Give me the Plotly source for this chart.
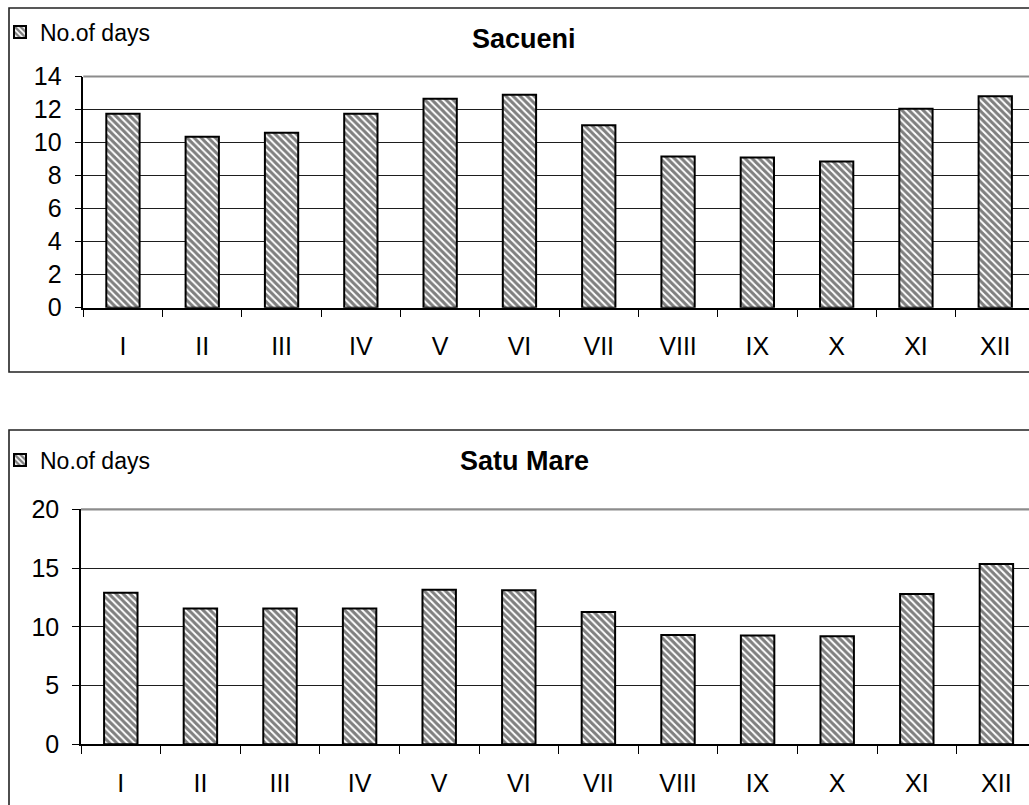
import plotly.graph_objects as go

# Monthly number of days, two stations
months = ["I", "II", "III", "IV", "V", "VI", "VII", "VIII", "IX", "X", "XI", "XII"]
sacueni_days = [11.75, 10.35, 10.6, 11.75, 12.65, 12.9, 11.05, 9.15, 9.1, 8.85, 12.05, 12.8]
satu_mare_days = [12.9, 11.55, 11.55, 11.55, 13.15, 13.1, 11.25, 9.3, 9.25, 9.2, 12.8, 15.35]
series_name = "No.of days"
station_titles = ["Sacueni", "Satu Mare"]

W, H = 1029, 805
FONT = "Liberation Sans, Arial, sans-serif"


def px_x(p):
    return p / W


def px_y(p):
    return 1 - p / H


bar_marker = dict(
    color="white",
    line=dict(color="black", width=2),
    pattern=dict(shape="\\", fgcolor="black", bgcolor="white", size=5, solidity=0.6),
)

fig = go.Figure()
fig.add_trace(go.Bar(x=months, y=sacueni_days, name=series_name, marker=bar_marker,
                     width=0.42, xaxis="x", yaxis="y", legend="legend"))
fig.add_trace(go.Bar(x=months, y=satu_mare_days, name=series_name, marker=bar_marker,
                     width=0.42, xaxis="x2", yaxis="y2", legend="legend2"))

tick_font = dict(family=FONT, size=25, color="black")


def xaxis_cfg(left_px, step_px, anchor):
    right_val = -0.5 + (W - left_px) / step_px
    return dict(
        domain=[px_x(left_px), 1], anchor=anchor, type="category",
        categoryorder="array", categoryarray=months, automargin=False,
        range=[-0.5, right_val], showline=True, linecolor="black", linewidth=1.5,
        ticks="outside", ticklen=8, tickcolor="black", tickwidth=1,
        tickson="boundaries", tickfont=tick_font, ticklabelstandoff=16,
        showgrid=False, zeroline=False, fixedrange=True,
    )


def yaxis_cfg(top_px, bottom_px, ymax, dtick, anchor):
    return dict(
        domain=[px_y(bottom_px), px_y(top_px)], anchor=anchor, automargin=False,
        range=[0, ymax], dtick=dtick, tick0=0, showline=True, linecolor="black",
        linewidth=1.5, ticks="outside", ticklen=7, tickcolor="black", tickwidth=1,
        tickfont=tick_font, ticklabelstandoff=8, showgrid=True,
        gridcolor="#1e1e1e", gridwidth=1, zeroline=False, fixedrange=True,
    )


TOP = dict(left=83.3, step=79.3, ytop=76.5, ybot=307.7, frame=(9, 8, 1040, 372))
BOT = dict(left=81.0, step=79.6, ytop=509.3, ybot=744.3, frame=(9, 430, 1040, 820))

shapes = []
annotations = []
for cfg, title in ((TOP, station_titles[0]), (BOT, station_titles[1])):
    x0, y0, x1, y1 = cfg["frame"]
    shapes.append(dict(type="rect", xref="paper", yref="paper",
                       x0=px_x(x0), x1=px_x(x1), y0=px_y(y1), y1=px_y(y0),
                       line=dict(color="#222", width=1.6), layer="above"))
    shapes.append(dict(type="line", xref="paper", yref="paper",
                       x0=px_x(cfg["left"]), x1=1.02, y0=px_y(cfg["ytop"]), y1=px_y(cfg["ytop"]),
                       line=dict(color="#8c8c8c", width=2.2), layer="above"))
    annotations.append(dict(text="<b>%s</b>" % title, xref="paper", yref="paper",
                            x=px_x(524), y=px_y(y0 + 31), xanchor="center", yanchor="middle",
                            showarrow=False, font=dict(family=FONT, size=27, color="black")))

legend_common = dict(xanchor="left", yanchor="middle", bgcolor="rgba(0,0,0,0)",
                     font=dict(family=FONT, size=23, color="black"), borderwidth=0,
                     itemwidth=30)

fig.update_layout(
    width=W, height=H, margin=dict(l=0, r=0, t=0, b=0, autoexpand=False),
    paper_bgcolor="white", plot_bgcolor="white",
    font=dict(family=FONT, color="black"),
    showlegend=True, bargap=0.58,
    xaxis=xaxis_cfg(TOP["left"], TOP["step"], "y"),
    yaxis=yaxis_cfg(TOP["ytop"], TOP["ybot"], 14, 2, "x"),
    xaxis2=xaxis_cfg(BOT["left"], BOT["step"], "y2"),
    yaxis2=yaxis_cfg(BOT["ytop"], BOT["ybot"], 20, 5, "x2"),
    legend=dict(x=px_x(0), y=px_y(32), **legend_common),
    legend2=dict(x=px_x(0), y=px_y(460), **legend_common),
    shapes=shapes, annotations=annotations,
)

fig.write_html("out.html")
